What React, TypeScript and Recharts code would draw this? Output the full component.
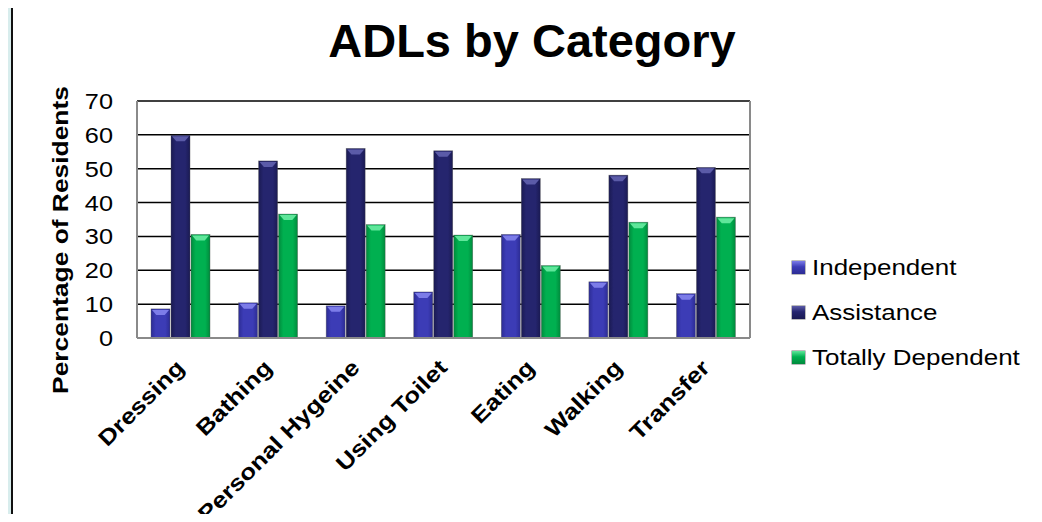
import React from "react";
import {
  Bar,
  BarChart,
  CartesianGrid,
  Legend,
  XAxis,
  YAxis,
} from "recharts";

// categories on the x axis (spelling kept as on the slide)
const categories = [
  "Dressing",
  "Bathing",
  "Personal Hygeine",
  "Using Toilet",
  "Eating",
  "Walking",
  "Transfer",
];

// percentage of residents per category
const independent = [8.6, 10.4, 9.5, 13.6, 30.6, 16.6, 13.1];
const assistance = [59.9, 52.3, 56.0, 55.3, 47.1, 48.1, 50.4];
const totallyDependent = [30.6, 36.6, 33.5, 30.4, 21.4, 34.2, 35.7];

const yTicks = [0, 10, 20, 30, 40, 50, 60, 70];

const seriesStyle = [
  { key: "independent", name: "Independent", base: "#3c3cb6", edge: "#2c2c94", top: "#7c7ce8" },
  { key: "assistance", name: "Assistance", base: "#25256e", edge: "#1a1a52", top: "#5b5ba8" },
  { key: "totallyDependent", name: "Totally Dependent", base: "#00b050", edge: "#008a3c", top: "#5fe69a" },
];

const data = categories.map((name, i) => ({
  name,
  independent: independent[i],
  assistance: assistance[i],
  totallyDependent: totallyDependent[i],
}));

const FONT = "'Liberation Sans', Arial, sans-serif";

// bar with a light bevel on top, like the office 3D-ish style
const makeBevelBar = (s: (typeof seriesStyle)[number]) => (props: any) => {
  const { x, y, width, height } = props;
  if (!height || height <= 0) return null;
  const bev = Math.min(6, height);
  return (
    <g>
      <rect
        x={x}
        y={y}
        width={width}
        height={height}
        fill={`url(#grad-${s.key})`}
        stroke="#555"
        strokeOpacity={0.6}
        strokeWidth={0.6}
      />
      <polygon
        points={`${x + 1},${y + 1} ${x + width - 1},${y + 1} ${x + width * 0.72},${y + bev} ${x + width * 0.28},${y + bev}`}
        fill={s.top}
      />
    </g>
  );
};

const XTick = (props: any) => {
  const { x, y, payload } = props;
  return (
    <g transform={`translate(${x + 5},${y + 31})`}>
      <text
        transform="rotate(-45) scale(1.18,1)"
        textAnchor="end"
        fontFamily={FONT}
        fontWeight="bold"
        fontSize={22}
        fill="#000"
      >
        {payload.value}
      </text>
    </g>
  );
};

const YTick = (props: any) => {
  const { x, y, payload } = props;
  return (
    <text
      transform={`translate(${x - 24},${y + 8}) scale(1.15,1)`}
      textAnchor="end"
      fontFamily={FONT}
      fontSize={22}
      fill="#000"
    >
      {payload.value}
    </text>
  );
};

const YLabel = () => (
  <text
    transform="translate(68,240) rotate(-90) scale(1.2,1)"
    textAnchor="middle"
    fontFamily={FONT}
    fontWeight="bold"
    fontSize={22}
    fill="#000"
  >
    Percentage of Residents
  </text>
);

const LegendContent = () => (
  <div style={{ fontFamily: FONT }}>
    {seriesStyle.map((s) => (
      <div
        key={s.key}
        style={{ display: "flex", alignItems: "center", height: 45 }}
      >
        <div
          style={{
            width: 13,
            height: 13,
            background: `linear-gradient(180deg, ${s.top} 0%, ${s.base} 45%, ${s.edge} 100%)`,
            boxShadow: "0 0 0 0.5px #777",
            marginRight: 7,
          }}
        />
        <span
          style={{
            fontSize: 22,
            color: "#000",
            display: "inline-block",
            transform: "scaleX(1.18)",
            transformOrigin: "left center",
            whiteSpace: "nowrap",
          }}
        >
          {s.name}
        </span>
      </div>
    ))}
  </div>
);

export default function App() {
  return (
    <div
      style={{
        position: "relative",
        margin: -8,
        width: 1042,
        height: 522,
        background: "#fff",
        overflow: "hidden",
      }}
    >
      {/* gradient defs shared by the bar shapes */}
      <svg width={0} height={0} style={{ position: "absolute" }}>
        <defs>
          {seriesStyle.map((s) => (
            <linearGradient key={s.key} id={`grad-${s.key}`} x1="0" y1="0" x2="1" y2="0">
              <stop offset="0%" stopColor={s.edge} />
              <stop offset="25%" stopColor={s.base} />
              <stop offset="75%" stopColor={s.base} />
              <stop offset="100%" stopColor={s.edge} />
            </linearGradient>
          ))}
        </defs>
      </svg>

      <div
        style={{
          position: "absolute",
          left: 0,
          top: 17,
          width: 1064,
          textAlign: "center",
          fontFamily: FONT,
          fontWeight: "bold",
          fontSize: 47,
          lineHeight: "47px",
          color: "#000",
        }}
      >
        ADLs by Category
      </div>

      <div style={{ position: "absolute", left: 0, top: 0 }}>
        <BarChart
          width={1042}
          height={522}
          data={data}
          margin={{ top: 101, right: 291, bottom: 154, left: 77 }}
          barCategoryGap="16%"
          barGap={1}
        >
          <CartesianGrid
            vertical={false}
            horizontal={true}
            stroke="#000"
            strokeWidth={1.5}
          />
          <XAxis
            dataKey="name"
            height={30}
            interval={0}
            tickLine={false}
            tickSize={0}
            tickMargin={0}
            axisLine={{ stroke: "#8a8a8a", strokeWidth: 2 }}
            tick={<XTick />}
          />
          <YAxis
            width={60}
            domain={[0, 70]}
            ticks={yTicks}
            tickLine={false}
            tickSize={0}
            tickMargin={0}
            axisLine={{ stroke: "#8a8a8a", strokeWidth: 2 }}
            tick={<YTick />}
            label={<YLabel />}
          />
          <YAxis
            yAxisId="right"
            orientation="right"
            width={1}
            domain={[0, 70]}
            tick={false}
            tickLine={false}
            axisLine={{ stroke: "#8a8a8a", strokeWidth: 2 }}
          />
          <Legend
            layout="horizontal"
            verticalAlign="middle"
            align="center"
            content={<LegendContent />}
            wrapperStyle={{ left: 792, top: 245, width: 240, height: 140 }}
          />
          {seriesStyle.map((s) => (
            <Bar
              key={s.key}
              dataKey={s.key}
              name={s.name}
              fill={s.base}
              shape={makeBevelBar(s)}
              isAnimationActive={false}
            />
          ))}
        </BarChart>
      </div>

      {/* left side panel strip, drawn above everything */}
      <div
        style={{
          position: "absolute",
          zIndex: 5,
          left: 0,
          top: 0,
          width: 11,
          height: 522,
          background: "#d8eded",
          borderRight: "2px solid #111",
        }}
      />
    </div>
  );
}
